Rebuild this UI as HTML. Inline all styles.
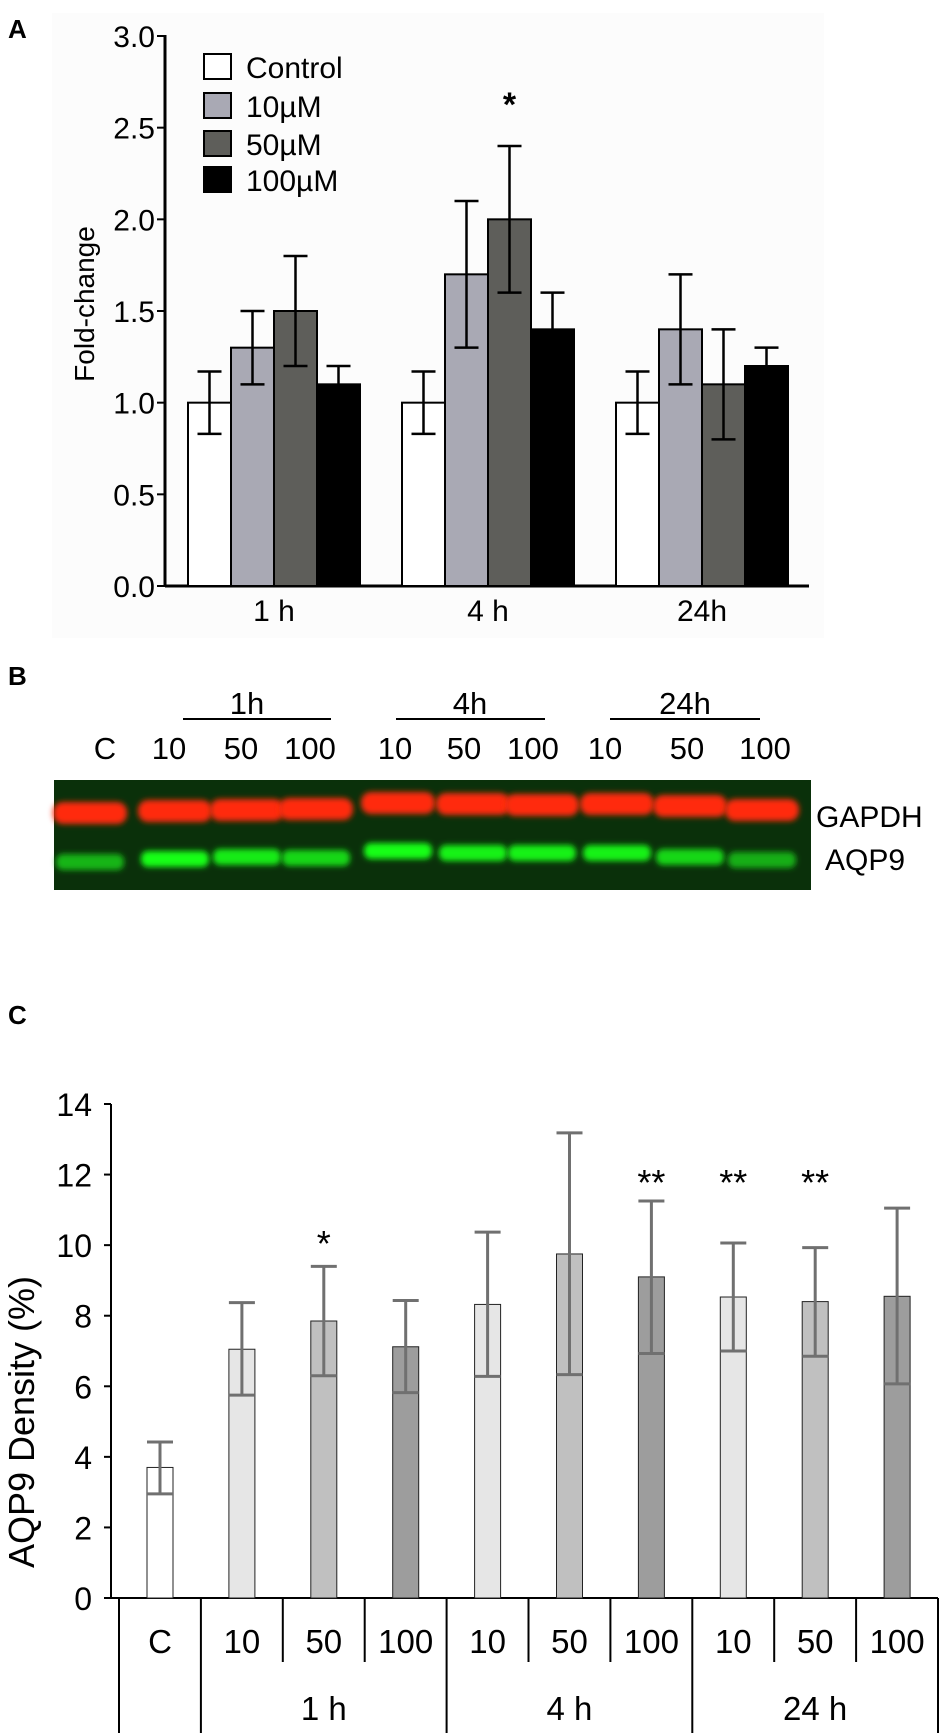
<!DOCTYPE html>
<html><head><meta charset="utf-8">
<style>
html,body{margin:0;padding:0;background:#fff;}
body{width:945px;height:1733px;position:relative;overflow:hidden;font-family:"Liberation Sans",sans-serif;}
svg{position:absolute;left:0;top:0;}
</style></head>
<body>
<svg width="945" height="1733" viewBox="0 0 945 1733" font-family="Liberation Sans, sans-serif">
<defs>
<filter id="blur2" x="-20%" y="-80%" width="140%" height="260%"><feGaussianBlur stdDeviation="3"/></filter>
</defs>
<!-- Panel A -->
<g id="panelA">
<rect x="52" y="13" width="772" height="625" fill="#fcfcfc"/>
<text x="8" y="38" font-size="26" font-weight="bold">A</text>
<text transform="translate(94,304) rotate(-90)" text-anchor="middle" font-size="28">Fold-change</text>
<g id="aAxes"></g>
<g id="aBars"></g>
<g>
<rect x="204" y="54" width="27" height="25" fill="#fff" stroke="#000" stroke-width="2"/>
<text x="246" y="78" font-size="30">Control</text>
<rect x="204" y="93" width="27" height="25" fill="#a9a9b4" stroke="#000" stroke-width="2"/>
<text x="246" y="117" font-size="30">10µM</text>
<rect x="204" y="131" width="27" height="25" fill="#5e5e5a" stroke="#000" stroke-width="2"/>
<text x="246" y="155" font-size="30">50µM</text>
<rect x="204" y="167" width="27" height="25" fill="#000" stroke="#000" stroke-width="2"/>
<text x="246" y="191" font-size="30">100µM</text>
</g>
</g>
<!-- Panel B -->
<g>
<text x="8" y="685" font-size="26" font-weight="bold">B</text>
<g font-size="31" text-anchor="middle">
<text x="247" y="714">1h</text>
<text x="470" y="714">4h</text>
<text x="685" y="714">24h</text>
</g>
<line x1="183" y1="719" x2="331" y2="719" stroke="#000" stroke-width="2"/>
<line x1="396" y1="719" x2="545" y2="719" stroke="#000" stroke-width="2"/>
<line x1="610" y1="719" x2="760" y2="719" stroke="#000" stroke-width="2"/>
<g id="blotLabels" font-size="31" text-anchor="middle"></g>
<rect x="54" y="780" width="757" height="110" fill="#0a300a"/>
<g id="blotBands"></g>
<text x="816" y="827" font-size="30">GAPDH</text>
<text x="825" y="870" font-size="30">AQP9</text>
</g>
<!-- Panel C -->
<g>
<text x="8" y="1024" font-size="26" font-weight="bold">C</text>
<text transform="translate(34,1422) rotate(-90)" text-anchor="middle" font-size="36">AQP9  Density (%)</text>
<g id="cAxes"></g>
<g id="cBars"></g>
</g>
</svg>
<script>
const NS='http://www.w3.org/2000/svg';
function mk(tag,attrs,parent,txt){const e=document.createElementNS(NS,tag);for(const k in attrs)e.setAttribute(k,attrs[k]);if(txt!==undefined)e.textContent=txt;parent.appendChild(e);return e;}

// ---- Panel A data ----
const aGroups=['1 h','4 h','24h'];
const aSeries=['Control','10µM','50µM','100µM'];
const aControl=[1.0,1.0,1.0];
const a10=[1.3,1.7,1.4];
const a50=[1.5,2.0,1.1];
const a100=[1.1,1.4,1.2];
const aErrControl=[0.17,0.17,0.17];
const aErr10=[0.2,0.4,0.3];
const aErr50=[0.3,0.4,0.3];
const aErr100=[0.1,0.2,0.1];
const aTicks=['0.0','0.5','1.0','1.5','2.0','2.5','3.0'];
const aStars=['','*',''];
const aStarSeries=2;

const aY=v=>586-v*(550/3);
const aGroupX=i=>188+i*214;
const aBarW=43;
const aColors=['#fff','#a9a9b4','#5e5e5a','#000'];
const aAx=document.getElementById('aAxes');
const aB=document.getElementById('aBars');
let l=mk('line',{x1:165,y1:aY(3)-1,x2:165,y2:aY(0),stroke:'#000','stroke-width':3},aAx);

l=mk('line',{x1:165,y1:aY(0),x2:809,y2:aY(0),stroke:'#000','stroke-width':3},aAx);

aTicks.forEach(t=>{const y=aY(parseFloat(t));
 let tk=mk('line',{x1:157,y1:y,x2:165,y2:y,stroke:'#000','stroke-width':2},aAx);
 
 let tx=mk('text',{x:155,y:y+11,'font-size':30,'text-anchor':'end'},aAx,t);
 });
const aVals=[aControl,a10,a50,a100];
const aErrs=[aErrControl,aErr10,aErr50,aErr100];
aGroups.forEach((g,gi)=>{
 let tx=mk('text',{x:aGroupX(gi)+2*aBarW,y:621,'font-size':30,'text-anchor':'middle'},aAx,g);
 
 aSeries.forEach((s,si)=>{
  const v=aVals[si][gi],e=aErrs[si][gi];const x=aGroupX(gi)+si*aBarW;
  let r=mk('rect',{x:x,y:aY(v),width:aBarW,height:aY(0)-aY(v),fill:aColors[si],stroke:'#000','stroke-width':2},aB);
  
  const cx=x+aBarW/2;
  let eb=mk('path',{d:`M${cx},${aY(v+e)}V${aY(v-e)}M${cx-12},${aY(v+e)}h24M${cx-12},${aY(v-e)}h24`,stroke:'#000','stroke-width':2.5,fill:'none'},aB);
  
 });
 if(aStars[gi]){const cx=aGroupX(gi)+aStarSeries*aBarW+aBarW/2;
  let st=mk('text',{x:cx,y:aY(aVals[aStarSeries][gi]+aErrs[aStarSeries][gi])-30,'font-size':34,'font-weight':'bold','text-anchor':'middle'},aB,aStars[gi]);
  }
});

// ---- Panel B blot ----
const blotLanes=['C','10','50','100','10','50','100','10','50','100'];
const blotLabelX=[105,169,241,310,395,464,533,605,687,765];
const laneX=[90,175,247,316,398,473,542,617,690,762];
const gapdhY=[813,811,810,809,803,804,805,804,806,810];
const aqp9Y=[862,859,857,858,851,853,853,853,857,860];
const aqp9Int=[0.45,1.0,0.85,0.7,1.0,0.9,0.9,0.9,0.7,0.4];
const bl=document.getElementById('blotLabels');
blotLanes.forEach((t,i)=>{let tx=mk('text',{x:blotLabelX[i],y:759},bl,t);
 });
const bb=document.getElementById('blotBands');
laneX.forEach((x,i)=>{
 let r=mk('rect',{x:x-37,y:gapdhY[i]-11,width:74,height:22,rx:10,fill:'#ff2a0a',filter:'url(#blur2)'},bb);
 
 const g=Math.round(120+135*aqp9Int[i]);
 let a=mk('rect',{x:x-34,y:aqp9Y[i]-8,width:68,height:16,rx:7,fill:`rgb(25,${g},25)`,filter:'url(#blur2)'},bb);
 
});

// ---- Panel C data ----
const cCategories=['C','10','50','100','10','50','100','10','50','100'];
const cGroupLabels=['1 h','4 h','24 h'];
const cValues=[3.7,7.05,7.85,7.12,8.32,9.75,9.1,8.53,8.4,8.55];
const cErrLow=[0.75,1.3,1.55,1.3,2.04,3.42,2.17,1.53,1.55,2.48];
const cErrHigh=[0.72,1.32,1.55,1.31,2.05,3.43,2.15,1.53,1.53,2.5];
const cStars=['','','*','','','','**','**','**',''];
const cTicks=[0,2,4,6,8,10,12,14];

const cY=v=>1598-v*(494/14);
const cellL=i=>119+i*81.9;
const cColors=['#ffffff','#e6e6e6','#c0c0c0','#9d9d9d','#e6e6e6','#c0c0c0','#9d9d9d','#e6e6e6','#c0c0c0','#9d9d9d'];
const cAx=document.getElementById('cAxes'),cB=document.getElementById('cBars');
l=mk('line',{x1:111,y1:cY(14),x2:111,y2:cY(0),stroke:'#000','stroke-width':2},cAx);

l=mk('line',{x1:104,y1:cY(0),x2:938,y2:cY(0),stroke:'#000','stroke-width':2},cAx);

cTicks.forEach(t=>{const y=cY(t);
 let tk=mk('line',{x1:104,y1:y,x2:111,y2:y,stroke:'#000','stroke-width':2},cAx);
 
 let tx=mk('text',{x:92,y:y+12,'font-size':32,'text-anchor':'end'},cAx,String(t));
 });
for(let i=0;i<=cCategories.length;i++){
 const x=i===cCategories.length?938:cellL(i);
 const major=(i===0||i===1||i===4||i===7||i===10);
 let d=mk('line',{x1:x,y1:cY(0),x2:x,y2:major?1733:1662,stroke:'#000','stroke-width':2},cAx);
 
}
cCategories.forEach((c,i)=>{
 const cx=cellL(i)+41;
 let tx=mk('text',{x:cx,y:1653,'font-size':33,'text-anchor':'middle'},cAx,c);
 
 const v=cValues[i];
 let r=mk('rect',{x:cx-13,y:cY(v),width:26,height:cY(0)-cY(v),fill:cColors[i],stroke:'#222','stroke-width':1},cB);
 
 const hi=cY(v+cErrHigh[i]),lo=cY(v-cErrLow[i]);
 let eb=mk('path',{d:`M${cx},${hi}V${lo}M${cx-13},${hi}h26M${cx-13},${lo}h26`,stroke:'#707070','stroke-width':3,fill:'none'},cB);
 
 if(cStars[i]){let st=mk('text',{x:cx,y:cStars[i]==='*'?1256:1195,'font-size':36,'text-anchor':'middle'},cB,cStars[i]);
  }
});
cGroupLabels.forEach((g,gi)=>{
 const cx=(cellL(1+gi*3)+cellL(4+gi*3))/2;
 let tx=mk('text',{x:cx,y:1720,'font-size':33,'text-anchor':'middle'},cAx,g);
 
});
</script>
</body></html>
